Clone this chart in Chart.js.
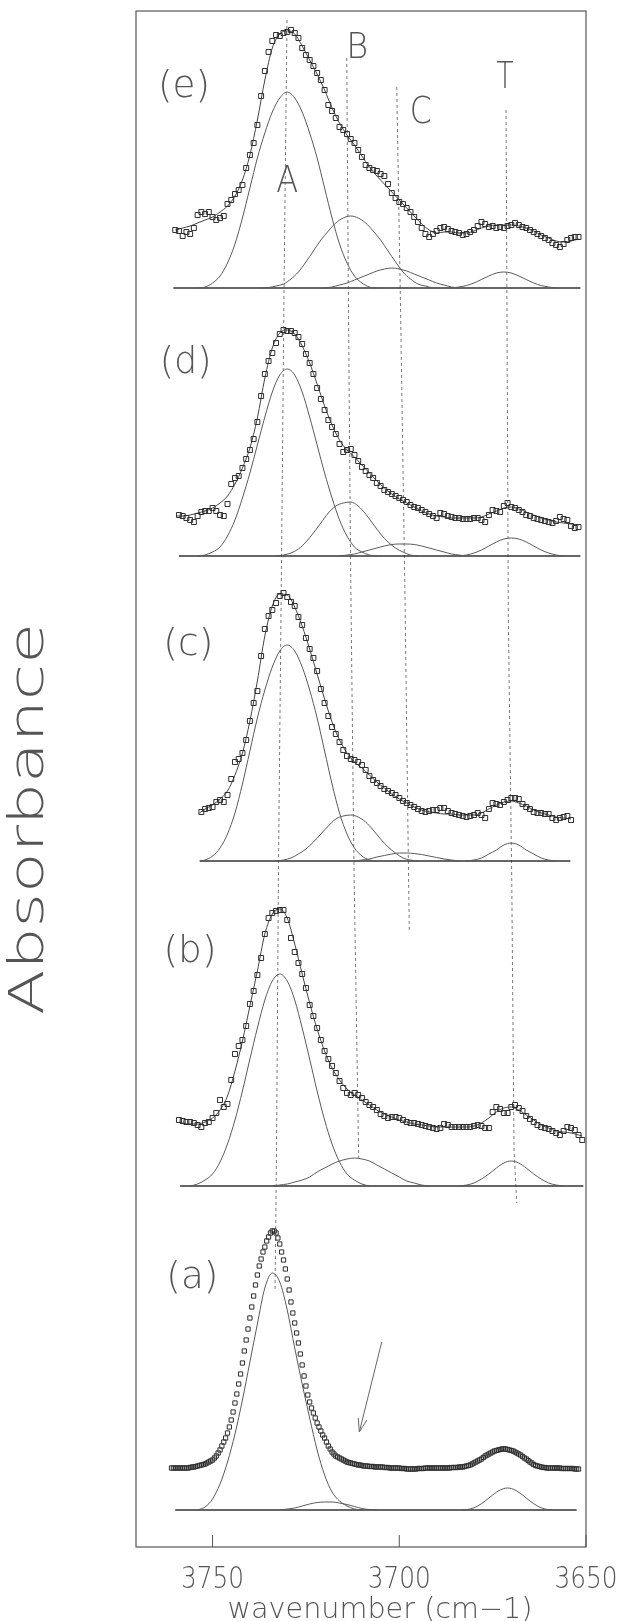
<!DOCTYPE html>
<html>
<head>
<meta charset="utf-8">
<script src="https://cdn.jsdelivr.net/npm/chart.js@4.4.1/dist/chart.umd.min.js"></script>
<style>
  html, body { margin: 0; padding: 0; background: #fff; }
  canvas { display: block; }
</style>
</head>
<body>
<canvas id="spectra" width="620" height="1621" style="width:620px;height:1621px"></canvas>
<script>
// axis
const WN_MIN = 3650, WN_MAX = 3770.5;
const TICKS = [3750, 3700, 3650];
const TICK_LABELS = ['3750', '3700', '3650'];
const X_TITLE = 'wavenumber (cm\u22121)';
const Y_TITLE = 'Absorbance';

// vertical offset of each trace (a)..(e), arbitrary absorbance units
const OFFSETS = [37, 361, 686, 991, 1259];

// measured points, height above the panel baseline
// (a): 3761 -> 3652 every 0.5 cm-1
const DATA_A = [
  42,42,42,42,42,42,42,42,42,42,
  42.5,43,43,43.5,44,44.5,45,45.5,46,47,
  48,49,50,52,54,57,60,64,68,72,
  77,83,90,98,107,116,126,136,147,159,
  170,181,192,203,214,225,235,244,251,258,
  263,269,273,277,279,279,277,272,266,258,
  250,241,231,220,208,197,187,177,167,156,
  145,134,124,115,108,102,97,92,87,83,
  79,75,72,68,64,61,58,56,54,53,
  52,51,50,49,48,47.5,47,46.5,46,45.5,
  45,45,44.5,44,44,44,43.5,43.5,43.5,43,
  43,43,43,43,42.5,42.5,42.5,42,42,42,
  42,42,42,41.5,41.5,41.5,41,41,41,41,
  41,41,41.5,41.5,41.5,41.5,42,42,42,42,
  42,42,42,42,42,42,42,42,42,42,
  42.5,42.5,42.5,42.5,43,43,43,43.5,44,44.5,
  45,46,47,48,49,50,51,52.5,54,55,
  56,57,58,59,59.5,60,60.5,61,61,61,
  60.5,60,59.5,59,58,57,56,55,53.5,52,
  51,49.5,48,47,45.5,44.5,44,43.5,43,42.5,
  42.5,42,42,42,42,42,42,42,42,41.5,
  41.5,41.5,41.5,41.5,41.5,41.5,41,41,41
];
// (b): 3759 -> 3651 every 1 cm-1
const DATA_B = [
  66,65,64,64,63,61,59,63,64,68,
  73,86,79,82,106,132,140,146,160,182,
  195,211,228,252,268,273,275,276,276,266,
  248,234,223,212,198,181,170,158,146,135,
  127,120,113,105,98,93,91,93,91,88,
  84,81,79,76,72,70,68,69,69,68,
  66,64,63,63,62,61,60,59,58,57,
  58,62,61,59,59,59,59,59,59,60,
  61,60,58,58,74,79,77,73,73,79,
  81,78,75,70,67,64,61,59,58,57,
  55,53,51,55,59,58,56,51,46
];
// (c): 3753 -> 3654
const DATA_C = [
  49,52,53,54,59,61,59,66,82,99,
  102,108,121,140,158,170,205,232,245,251,
  258,265,268,264,259,255,244,236,223,212,
  203,190,172,158,145,134,127,119,111,105,
  102,101,99,96,91,85,81,78,75,72,
  70,68,66,63,60,58,56,54,52,50,
  49,50,51,51,53,53,50,48,47,46,
  45,44,45,46,48,46,43,52,58,57,
  56,59,61,63,63,62,57,54,52,49,
  48,48,47,47,43,41,43,44,45,41
];
// (d): 3759 -> 3652
const DATA_D = [
  41,40,38,36,34,40,44,45,45,48,
  45,41,40,52,72,78,80,88,97,106,
  117,134,160,182,195,203,213,222,226,225,
  225,223,219,212,202,193,182,168,157,146,
  136,129,122,112,104,106,107,101,95,89,
  85,81,78,73,70,66,64,62,60,58,
  56,54,51,49,48,46,44,42,40,38,
  43,42,40,39,38,38,37,37,37,38,
  38,36,34,41,46,45,44,50,53,49,
  48,46,44,41,40,38,37,36,35,34,
  33,35,39,37,36,30,28,29
];
// (e): 3760 -> 3652
const DATA_E = [
  58,57,52,56,54,60,73,76,74,76,
  71,68,70,72,84,88,94,98,103,120,
  133,145,163,192,217,236,247,253,252,255,
  256,258,255,250,240,233,228,222,215,208,
  198,183,177,170,161,158,154,149,145,138,
  131,123,120,118,117,114,112,104,95,90,
  86,84,80,76,71,66,60,54,51,54,
  57,60,61,59,57,56,55,53,54,56,
  58,62,66,64,61,62,60,61,60,62,
  63,65,63,61,60,58,56,54,52,50,
  48,45,43,41,44,48,50,51,51
];
const DATA_START = [3761, 3759, 3753, 3759, 3760];
const DATA_STEP = [0.5, 1, 1, 1, 1];

// fitted envelopes [wavenumber, height]
const FIT_B = [[3759,64],[3758,63],[3756,62],[3754,62],[3752,64],[3750,68],[3748,76],[3746,90],[3744,115],[3742,145],[3740,180],[3738,215],[3736,252],[3734,272],[3732,277],[3730,268],[3728,242],[3726,212],[3724,183],[3722,157],[3720,135],[3718,118],[3716,106],[3714,97],[3712,91],[3710,86],[3708,81],[3706,76],[3704,72],[3702,69],[3700,66],[3698,64],[3696,62],[3694,61],[3692,60],[3690,59],[3688,59],[3686,59],[3684,59],[3682,59],[3680,60],[3678,63],[3676,68],[3674,74],[3672,78],[3670,79],[3668,76],[3666,71],[3664,66],[3662,61],[3660,58],[3658,55],[3656,54],[3654,53],[3652,51],[3651,50]];
const FIT_C = [[3753.5,48],[3752,52],[3750,56],[3748,62],[3746,70],[3744,86],[3742,108],[3740,140],[3738,180],[3736,225],[3734,255],[3732,267],[3730,266],[3728,254],[3726,235],[3724,212],[3722,187],[3720,162],[3718,139],[3716,121],[3714,108],[3712,99],[3710,93],[3708,86],[3706,79],[3704,73],[3702,67],[3700,62],[3698,58],[3696,54],[3694,51],[3692,49],[3690,48],[3688,47],[3686,47],[3684,46],[3682,46],[3680,46],[3678,48],[3676,52],[3674,56],[3672,59],[3670,60],[3668,58],[3666,55],[3664,51],[3662,48],[3660,46],[3658,44],[3656,43],[3654,42]];
const FIT_D = [[3759.5,40],[3758,40],[3756,41],[3754,43],[3752,45],[3750,48],[3748,53],[3746,60],[3744,72],[3742,88],[3740,108],[3738,138],[3736,178],[3734,208],[3732,223],[3730,226],[3728,222],[3726,210],[3724,193],[3722,172],[3720,150],[3718,131],[3716,116],[3714,106],[3712,99],[3710,91],[3708,83],[3706,75],[3704,68],[3702,62],[3700,57],[3698,53],[3696,49],[3694,45],[3692,42],[3690,40],[3688,39],[3686,38],[3684,38],[3682,38],[3680,38],[3678,39],[3676,42],[3674,45],[3672,48],[3670,49],[3668,47],[3666,44],[3664,41],[3662,38],[3660,36],[3658,34],[3656,33],[3654,32],[3652,31]];
const FIT_E = [[3760,58],[3758,60],[3756,62],[3754,65],[3752,68],[3750,71],[3748,76],[3746,82],[3744,92],[3742,108],[3740,133],[3738,168],[3736,208],[3734,240],[3732,254],[3730,257],[3728,254],[3726,242],[3724,228],[3722,214],[3720,198],[3718,180],[3716,165],[3714,153],[3712,143],[3710,132],[3708,121],[3706,112],[3704,104],[3702,96],[3700,88],[3698,80],[3696,72],[3694,64],[3692,58],[3690,55],[3688,56],[3686,56],[3684,55],[3682,55],[3680,57],[3678,60],[3676,62],[3674,63],[3672,63],[3670,63],[3668,62],[3666,60],[3664,57],[3662,53],[3660,50],[3658,47],[3656,46],[3654,47],[3652,49]];

// component bands A, B, C, T
const A_A = [[3754,0],[3752,3],[3750,11],[3748,26],[3746,48],[3744,76],[3742,110],[3740,148],[3738,186],[3736,222],[3734,237],[3732,228],[3730,200],[3728,162],[3726,126],[3724,92],[3722,60],[3720,35],[3718,18],[3716,9],[3714,4],[3712,1],[3710,0]];
const B_A = [[3732,0],[3730,1],[3728,2],[3726,4],[3724,6],[3722,7.5],[3720,8],[3718,8],[3716,7],[3714,5.5],[3712,3.5],[3710,1.5],[3708,0.5],[3706,0]];
const T_A = [[3683,0],[3681,1],[3679,4],[3677,9],[3675,15],[3673,20],[3671,22],[3669,20],[3667,15],[3665,9],[3663,4],[3661,1],[3659,0]];

const A_B = [[3756,0],[3754,2],[3752,6],[3750,12],[3748,24],[3746,42],[3744,66],[3742,95],[3740,127],[3738,158],[3736,186],[3734,205],[3732,212],[3730,205],[3728,186],[3726,158],[3724,127],[3722,95],[3720,66],[3718,42],[3716,24],[3714,12],[3712,6],[3710,2],[3708,0]];
const B_B = [[3734,0],[3732,1],[3730,2],[3728,4],[3726,6],[3724,9],[3722,14],[3720,18],[3718,22],[3716,25],[3714,27],[3712,28],[3710,27],[3708,25],[3706,21],[3704,17],[3702,13],[3700,9],[3698,5],[3696,3],[3694,1],[3692,0]];
const T_B = [[3684,0],[3682,1],[3680,3],[3678,7],[3676,12],[3674,18],[3672,23],[3670,25],[3668,23],[3666,18],[3664,12],[3662,7],[3660,3],[3658,1],[3656,0]];

const A_C = [[3753.5,0],[3752,1],[3750,5],[3748,13],[3746,27],[3744,48],[3742,77],[3740,110],[3738,143],[3736,171],[3734,194],[3732,210],[3730,216],[3728,210],[3726,194],[3724,171],[3722,143],[3720,110],[3718,77],[3716,48],[3714,27],[3712,13],[3710,5],[3708,1],[3706,0]];
const B_C = [[3733,0],[3731,1],[3729,3],[3727,7],[3725,12],[3723,19],[3721,27],[3719,35],[3717,42],[3715,45],[3713,46],[3711,44],[3709,39],[3707,31],[3705,22],[3703,14],[3701,8],[3699,3],[3697,1],[3695,0]];
const C_C = [[3712,0],[3710,1],[3708,2],[3706,4],[3704,5.5],[3702,7],[3700,8],[3698,8],[3696,7.5],[3694,6.5],[3692,5],[3690,3.5],[3688,2],[3686,1],[3684,0]];
const T_C = [[3682,0],[3680,1],[3678,3],[3676,7],[3674,11],[3672,16],[3670,18],[3668,16],[3666,11],[3664,7],[3662,3],[3660,1],[3658,0]];

const A_D = [[3754,0],[3752,1],[3750,4],[3748,9],[3746,20],[3744,36],[3742,58],[3740,83],[3738,111],[3736,139],[3734,164],[3732,181],[3730,187],[3728,181],[3726,164],[3724,139],[3722,111],[3720,83],[3718,58],[3716,36],[3714,20],[3712,9],[3710,4],[3708,1],[3706,0]];
const B_D = [[3733,0],[3731,1],[3729,3],[3727,7],[3725,14],[3723,23],[3721,33],[3719,43],[3717,50],[3715,53],[3713,54],[3711,50],[3709,42],[3707,32],[3705,22],[3703,14],[3701,8],[3699,4],[3697,1],[3695,0]];
const C_D = [[3716,0],[3714,1],[3712,2],[3710,4],[3708,6],[3706,8],[3704,10],[3702,11.5],[3700,12],[3698,12],[3696,11.5],[3694,10],[3692,8],[3690,6],[3688,4],[3686,2],[3684,1],[3682,0]];
const T_D = [[3684,0],[3682,1],[3680,3],[3678,6],[3676,10],[3674,14],[3672,17],[3670,18],[3668,17],[3666,14],[3664,10],[3662,6],[3660,3],[3658,1],[3656,0]];

const A_E = [[3754,0],[3752,1],[3750,5],[3748,12],[3746,25],[3744,44],[3742,70],[3740,100],[3738,130],[3736,155],[3734,176],[3732,190],[3730,196],[3728,190],[3726,176],[3724,155],[3722,130],[3720,100],[3718,70],[3716,44],[3714,25],[3712,12],[3710,5],[3708,1],[3706,0]];
const B_E = [[3737,0],[3735,0.5],[3733,2],[3731,4],[3729,9],[3727,16],[3725,26],[3723,37],[3721,48],[3719,57],[3717,65],[3715,70],[3713,72],[3711,70],[3709,65],[3707,57],[3705,48],[3703,37],[3701,26],[3699,16],[3697,9],[3695,4],[3693,2],[3691,0]];
const C_E = [[3720,0],[3718,1],[3716,3],[3714,5],[3712,8],[3710,11],[3708,14],[3706,17],[3704,19],[3702,20],[3700,19],[3698,17],[3696,14],[3694,11],[3692,8],[3690,5],[3688,3],[3686,1],[3684,0]];
const T_E = [[3686,0],[3684,1],[3682,2.5],[3680,5],[3678,8.5],[3676,12],[3674,15],[3672,16],[3670,15],[3668,12],[3666,8.5],[3664,5],[3662,2.5],[3660,1],[3658,0]];

// baselines (start, end wavenumber)
const BASE_SPAN = [[3760, 3652.5], [3758.7, 3650.7], [3753.4, 3654.2], [3759, 3651.5], [3760.5, 3651.5]];

// dashed guides through band positions [wavenumber, absolute height]
const GUIDE_A = [[3730.06,1527],[3730.86,1257],[3731.53,987],[3732.33,687],[3732.87,397],[3733.27,257]];
const GUIDE_B = [[3714.07,1489],[3713.64,1259],[3713.05,987],[3712.12,677],[3710.86,387]];
const GUIDE_C = [[3700.68,1460],[3699.61,1227],[3698.46,947],[3697.57,687],[3697.31,614]];
const GUIDE_T = [[3671.41,1437],[3670.79,927],[3669.88,667],[3669.27,397],[3668.54,344]];

// annotations
const NOTES = [
  { text: '(a)', x: 3755.42, y: 259, size: 38, width: 52 },
  { text: '(b)', x: 3756.04, y: 585, size: 38, width: 53 },
  { text: '(c)', x: 3756.49, y: 892, size: 38, width: 50 },
  { text: '(d)', x: 3757.19, y: 1174, size: 38, width: 52 },
  { text: '(e)', x: 3757.65, y: 1450, size: 38, width: 52 },
  { text: 'A', x: 3729.98, y: 1355, size: 38, width: 22 },
  { text: 'B', x: 3711.23, y: 1489, size: 35, width: 22 },
  { text: 'C', x: 3694.25, y: 1424, size: 37, width: 22 },
  { text: 'T', x: 3671.68, y: 1459, size: 37, width: 17 }
];
const ARROW = [[3704.7, 205], [3710.7, 115]];

const TEXT_COLOR = '#555';
const LINE_COLOR = '#5a5a5a';

function pairs(list, off) {
  return list.map(p => ({ x: p[0], y: off + p[1] }));
}

function sampled(vals, start, step, off) {
  return vals.map((v, i) => ({ x: start - i * step, y: off + v }));
}

function curve(points, color, width) {
  return {
    data: points, showLine: true, pointRadius: 0, borderColor: color,
    borderWidth: width, fill: false, cubicInterpolationMode: 'monotone', order: 2
  };
}

const datasets = [];
const panels = [
  { data: DATA_A, fit: null, comps: [A_A, B_A, T_A], r: 3 },
  { data: DATA_B, fit: FIT_B, comps: [A_B, B_B, T_B], r: 3.5 },
  { data: DATA_C, fit: FIT_C, comps: [A_C, B_C, C_C, T_C], r: 3.5 },
  { data: DATA_D, fit: FIT_D, comps: [A_D, B_D, C_D, T_D], r: 3.5 },
  { data: DATA_E, fit: FIT_E, comps: [A_E, B_E, C_E, T_E], r: 3.5 }
];

panels.forEach((p, i) => {
  const off = OFFSETS[i];
  datasets.push({
    data: sampled(p.data, DATA_START[i], DATA_STEP[i], off),
    pointStyle: 'rect', pointRadius: p.r, borderColor: '#2e2e2e',
    backgroundColor: 'rgba(0,0,0,0)', borderWidth: 1, order: 1
  });
  if (p.fit) datasets.push(curve(pairs(p.fit, off), '#444', 1));
  p.comps.forEach(c => datasets.push(curve(pairs(c, off), LINE_COLOR, 1)));
  datasets.push(curve(pairs([[BASE_SPAN[i][0], 0], [BASE_SPAN[i][1], 0]], off), '#333', 1.5));
});

[GUIDE_A, GUIDE_B, GUIDE_C, GUIDE_T].forEach(g => {
  datasets.push({
    data: pairs(g, 0), showLine: true, pointRadius: 0, borderColor: '#777',
    borderWidth: 1, borderDash: [3, 3], fill: false, order: 3
  });
});

// text squeezed/stretched to the width it has in the figure
function fitText(ctx, text, x, y, size, width, angle) {
  ctx.save();
  ctx.font = '200 ' + size + 'px "DejaVu Sans"';
  ctx.translate(x, y);
  if (angle) ctx.rotate(angle);
  const w = ctx.measureText(text).width;
  ctx.scale(width / w, 1);
  ctx.textAlign = 'center';
  ctx.textBaseline = 'alphabetic';
  ctx.fillText(text, 0, 0);
  ctx.restore();
}

const overlay = {
  id: 'overlay',
  afterDatasetsDraw(chart) {
    const { ctx, chartArea: a, scales: { x, y } } = chart;
    ctx.save();
    ctx.strokeStyle = '#555';
    ctx.lineWidth = 1.2;
    ctx.strokeRect(a.left, a.top, a.right - a.left, a.bottom - a.top);

    // inward tick marks
    ctx.lineWidth = 1;
    TICKS.forEach(v => {
      const px = x.getPixelForValue(v);
      ctx.beginPath();
      ctx.moveTo(px, a.bottom);
      ctx.lineTo(px, a.bottom - 12);
      ctx.stroke();
    });

    ctx.fillStyle = TEXT_COLOR;
    TICKS.forEach((v, i) => fitText(ctx, TICK_LABELS[i], x.getPixelForValue(v), a.bottom + 41, 31, 63));
    fitText(ctx, X_TITLE, (a.left + a.right) / 2 + 19, a.bottom + 71, 28, 305);
    fitText(ctx, Y_TITLE, 43, (a.top + a.bottom) / 2 + 40, 48, 392, -Math.PI / 2);

    NOTES.forEach(n => fitText(ctx, n.text, x.getPixelForValue(n.x), y.getPixelForValue(n.y), n.size, n.width));

    // arrow in panel (a)
    const x0 = x.getPixelForValue(ARROW[0][0]), y0 = y.getPixelForValue(ARROW[0][1]);
    const x1 = x.getPixelForValue(ARROW[1][0]), y1 = y.getPixelForValue(ARROW[1][1]);
    const ang = Math.atan2(y0 - y1, x0 - x1);
    ctx.strokeStyle = '#666';
    ctx.beginPath();
    ctx.moveTo(x0, y0);
    ctx.lineTo(x1, y1);
    [0.32, -0.32].forEach(d => {
      ctx.moveTo(x1, y1);
      ctx.lineTo(x1 + 14 * Math.cos(ang + d), y1 + 14 * Math.sin(ang + d));
    });
    ctx.stroke();
    ctx.restore();
  }
};

new Chart(document.getElementById('spectra').getContext('2d'), {
  type: 'scatter',
  data: { datasets },
  options: {
    responsive: false,
    animation: false,
    devicePixelRatio: 1,
    layout: { padding: { left: 0, right: 34, top: 11, bottom: 0 } },
    plugins: { legend: { display: false }, tooltip: { enabled: false } },
    scales: {
      x: {
        type: 'linear', reverse: true, min: WN_MIN, max: WN_MAX,
        grid: { display: false, drawTicks: false }, border: { display: false },
        ticks: { display: false },
        afterBuildTicks: s => { s.ticks = TICKS.map(v => ({ value: v })); },
        afterFit: s => { s.height = 74; }
      },
      y: {
        min: 0, max: 1536,
        grid: { display: false, drawTicks: false }, border: { display: false },
        ticks: { display: false },
        afterFit: s => { s.width = 136; }
      }
    }
  },
  plugins: [overlay]
});
</script>
</body>
</html>
